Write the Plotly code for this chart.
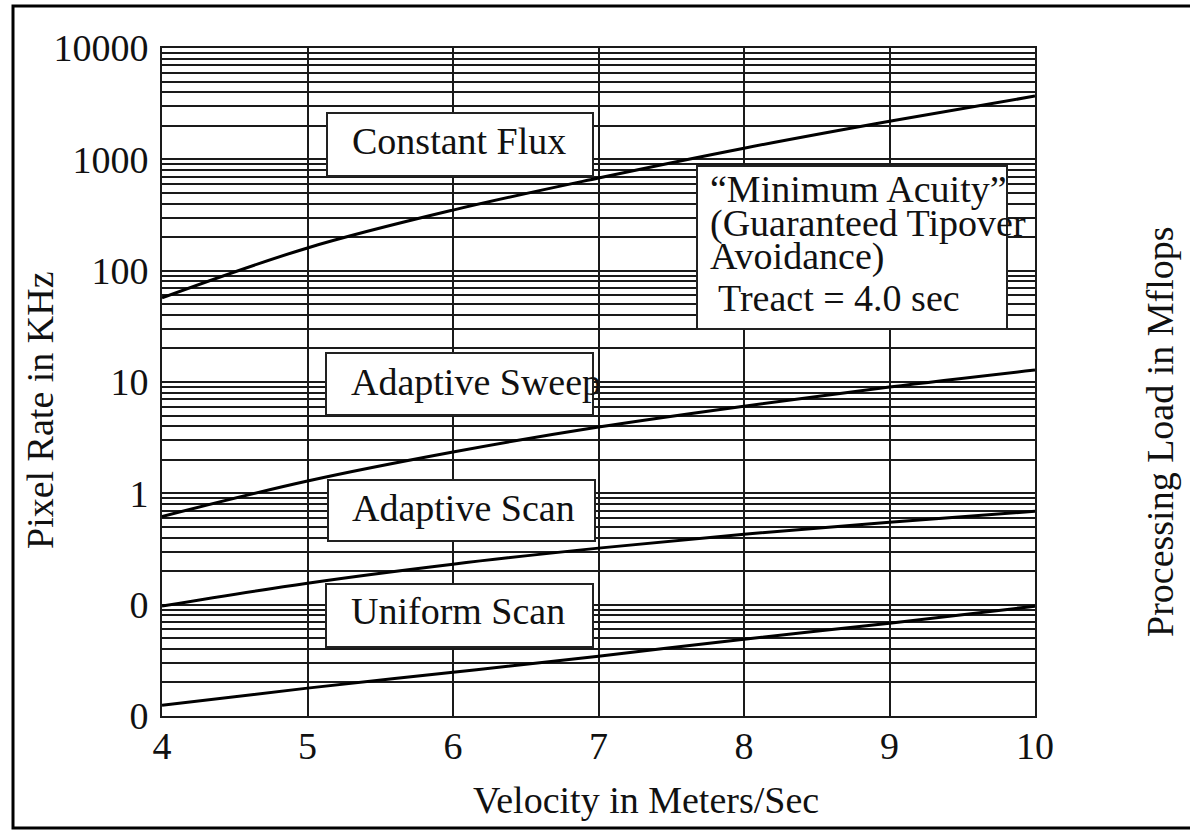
import plotly.graph_objects as go
import numpy as np

# ---- data ----
velocity = [4, 5, 6, 7, 8, 9, 10]
constant_flux = [57, 160, 350, 680, 1260, 2200, 3700]
adaptive_sweep = [0.62, 1.29, 2.35, 3.94, 6.07, 9.0, 12.8]
adaptive_scan = [0.097, 0.156, 0.231, 0.322, 0.43, 0.55, 0.69]
uniform_scan = [0.0125, 0.0178, 0.0247, 0.0344, 0.049, 0.068, 0.097]

left_major = [10000, 1000, 100, 10, 1, 0.1, 0.01]
left_labels = ["10000", "1000", "100", "10", "1", "0", "0"]
right_major = [500, 50, 5, 0.5, 0.05, 0.005]
right_labels = ["500", "50", "5", "0.5", "0.05", "0.005"]
x_ticks = [4, 5, 6, 7, 8, 9, 10]

W, H = 1190, 830
L, T = 162, 48
PW, PH = 873, 668
R = W - L - PW
B = H - T - PH

def px(x):  # screen x -> paper
    return (x - L) / PW

def py(y):  # screen y -> paper
    return (T + PH - y) / PH

FONT = "Liberation Serif, Times New Roman, serif"
FS = 38

# grid values: every 1..9 multiple per decade
grid_vals, grid_text = [], []
for e in range(-2, 4):
    for m in range(1, 10):
        grid_vals.append(m * 10.0 ** e)
        grid_text.append("")
grid_vals.append(10000.0)
grid_text.append("")
for v, t in zip(left_major, left_labels):
    i = int(np.argmin([abs(np.log10(g) - np.log10(v)) for g in grid_vals]))
    grid_text[i] = t

fig = go.Figure()
for ys in [constant_flux, adaptive_sweep, adaptive_scan, uniform_scan]:
    fig.add_trace(go.Scatter(x=velocity, y=ys, mode="lines",
                             line=dict(color="black", width=3, shape="spline"),
                             showlegend=False, hoverinfo="skip"))

tf = dict(family=FONT, size=FS, color="#111")
fig.update_layout(
    width=W, height=H,
    margin=dict(l=L, r=R, t=T, b=B),
    paper_bgcolor="white", plot_bgcolor="white",
    font=dict(family=FONT, color="#111", size=FS),
    xaxis=dict(range=[4, 10], tickvals=x_ticks, showgrid=True,
               gridcolor="#1a1a1a", gridwidth=1.6, zeroline=False,
               showline=True, linecolor="#1a1a1a", linewidth=2, mirror=True,
               ticks="", ticklabelstandoff=-5, tickfont=tf),
    yaxis=dict(type="log", range=[-2, 4], tickmode="array",
               tickvals=grid_vals, ticktext=grid_text, showgrid=True,
               gridcolor="#1a1a1a", gridwidth=1.6, zeroline=False,
               showline=True, linecolor="#1a1a1a", linewidth=2, mirror=True,
               ticks="", ticklabelstandoff=4, tickfont=tf),
    yaxis2=dict(type="log", overlaying="y", side="right",
                range=[np.log10(0.0005), np.log10(500)], tickmode="array",
                tickvals=right_major, ticktext=right_labels, showgrid=False,
                zeroline=False, showline=False, ticks="", ticklabelstandoff=16,
                tickfont=tf),
)

shapes = []
# outer frame
shapes.append(dict(type="rect", xref="paper", yref="paper",
                   x0=px(13), x1=px(1220), y0=py(828), y1=py(6),
                   line=dict(color="black", width=3), fillcolor="rgba(0,0,0,0)",
                   layer="above"))
boxes = [(327, 593, 113, 176), (326, 593, 353, 415), (328, 595, 480, 541),
         (326, 593, 584, 647), (697, 1007, 166, 329)]
for x0, x1, y0, y1 in boxes:
    shapes.append(dict(type="rect", xref="paper", yref="paper",
                       x0=px(x0), x1=px(x1), y0=py(y1), y1=py(y0),
                       line=dict(color="#222", width=2), fillcolor="white",
                       layer="above"))
fig.update_layout(shapes=shapes)

ann = []
def text(x, y, s, size=FS, xanchor="left", angle=0):
    ann.append(dict(xref="paper", yref="paper", x=px(x), y=py(y), text=s,
                    showarrow=False, xanchor=xanchor, yanchor="middle",
                    textangle=angle, font=dict(family=FONT, size=size, color="#111")))

text(350, 141, "Constant Flux")
text(349, 382, "Adaptive Sweep")
text(350, 508, "Adaptive Scan")
text(349, 611, "Uniform Scan")
text(708, 189, "\u201cMinimum Acuity\u201d")
text(708, 223, "(Guaranteed Tipover")
text(708, 256, "Avoidance)")
text(716, 298, "Treact = 4.0 sec")
text(646, 800, "Velocity in Meters/Sec", xanchor="center")
text(40, 410, "Pixel Rate in KHz", xanchor="center", angle=-90)
text(1160, 432, "Processing Load in Mflops", xanchor="center", angle=-90)
fig.update_layout(annotations=ann)

fig.write_html("out.html", config={"displayModeBar": False},
               post_script="document.body.style.margin='0';document.body.style.overflow='hidden';")
